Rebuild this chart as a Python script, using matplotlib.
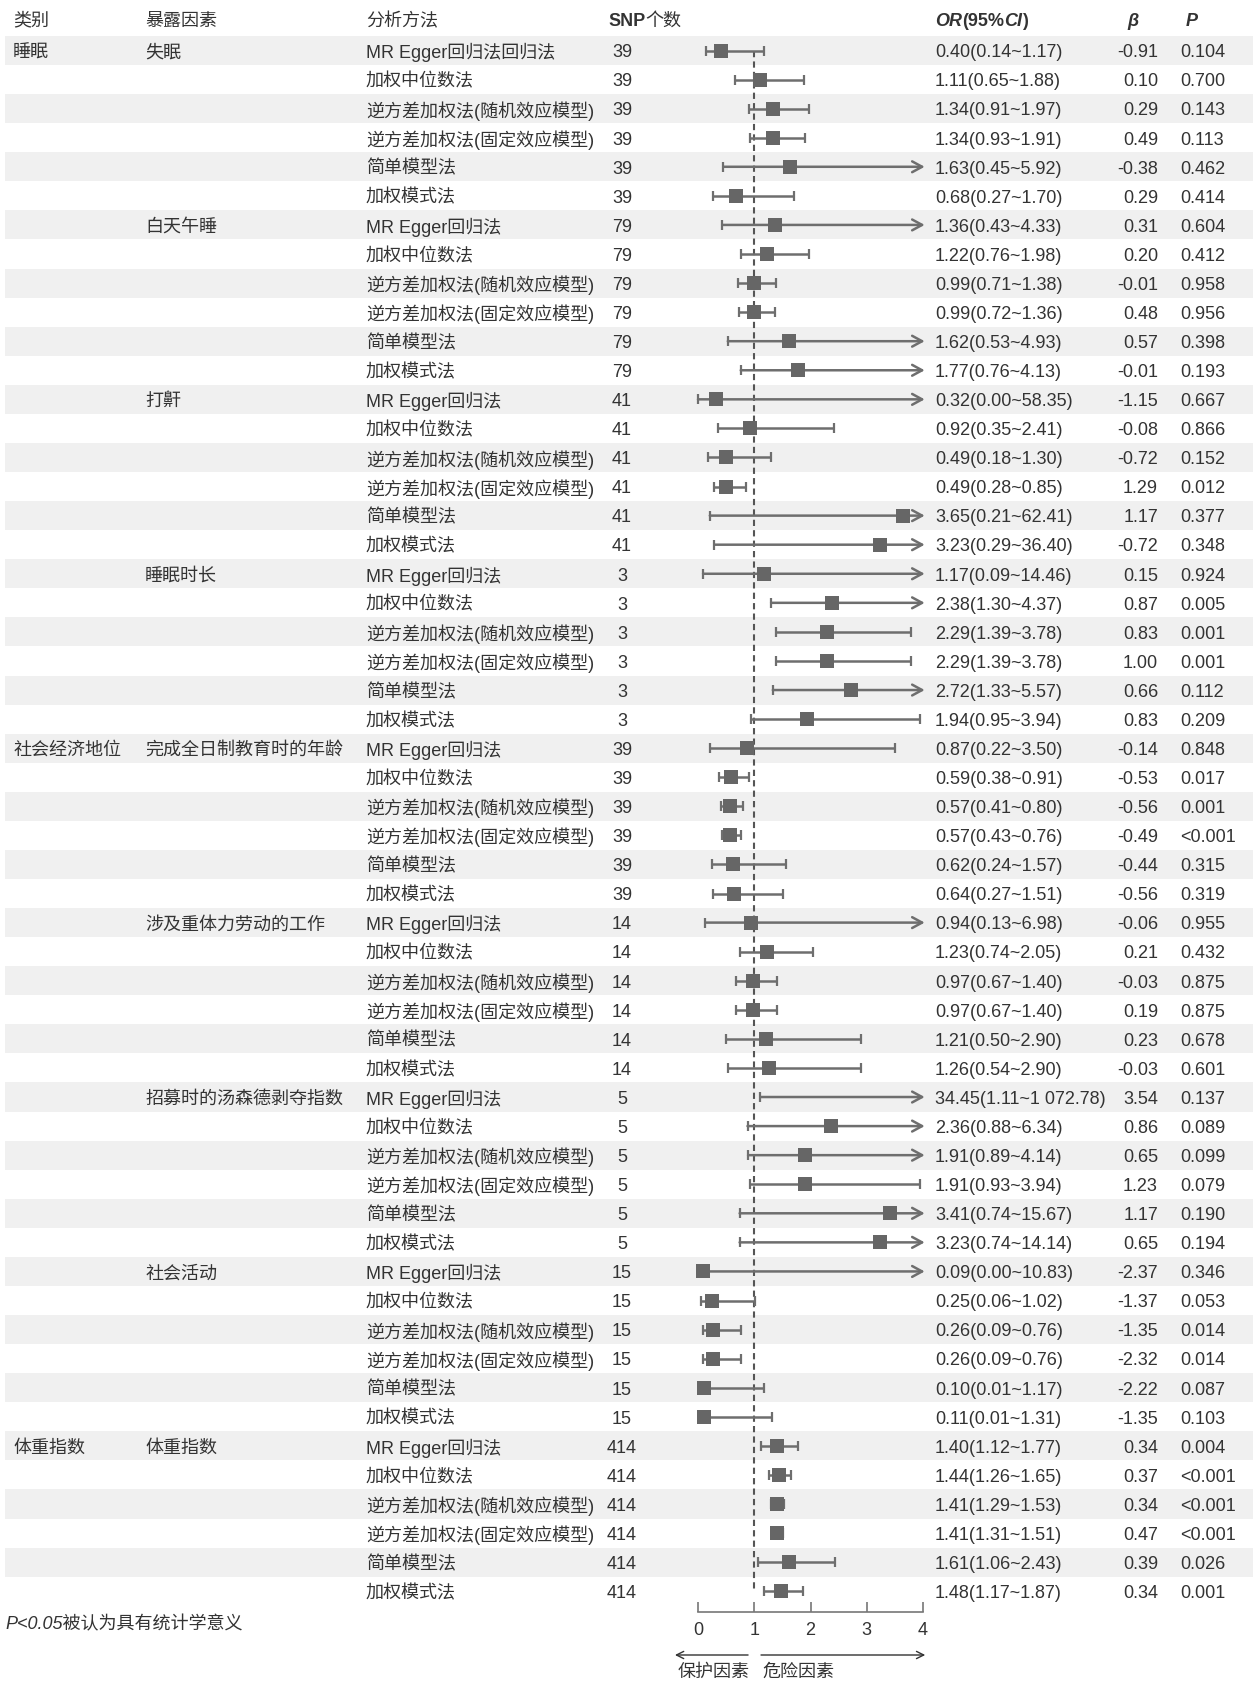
import matplotlib
matplotlib.use('Agg')
import matplotlib.pyplot as plt
from matplotlib.patches import Rectangle

plt.rcParams['font.family'] = ['Liberation Sans', 'Noto Sans CJK SC']
plt.rcParams['font.size'] = 13

# ---------------- data ----------------
categories = ['睡眠', '社会经济地位', '体重指数']
category_first_row = [0, 24, 48]
exposures = ['失眠', '白天午睡', '打鼾', '睡眠时长', '完成全日制教育时的年龄',
             '涉及重体力劳动的工作', '招募时的汤森德剥夺指数', '社会活动', '体重指数']
snp_counts = [39, 79, 41, 3, 39, 14, 5, 15, 414]
method_names = ['MR Egger回归法', '加权中位数法', '逆方差加权法(随机效应模型)',
                '逆方差加权法(固定效应模型)', '简单模型法', '加权模式法']
first_method_label = 'MR Egger回归法回归法'

or_vals = [0.40, 1.11, 1.34, 1.34, 1.63, 0.68,
           1.36, 1.22, 0.99, 0.99, 1.62, 1.77,
           0.32, 0.92, 0.49, 0.49, 3.65, 3.23,
           1.17, 2.38, 2.29, 2.29, 2.72, 1.94,
           0.87, 0.59, 0.57, 0.57, 0.62, 0.64,
           0.94, 1.23, 0.97, 0.97, 1.21, 1.26,
           34.45, 2.36, 1.91, 1.91, 3.41, 3.23,
           0.09, 0.25, 0.26, 0.26, 0.10, 0.11,
           1.40, 1.44, 1.41, 1.41, 1.61, 1.48]
ci_low = [0.14, 0.65, 0.91, 0.93, 0.45, 0.27,
          0.43, 0.76, 0.71, 0.72, 0.53, 0.76,
          0.00, 0.35, 0.18, 0.28, 0.21, 0.29,
          0.09, 1.30, 1.39, 1.39, 1.33, 0.95,
          0.22, 0.38, 0.41, 0.43, 0.24, 0.27,
          0.13, 0.74, 0.67, 0.67, 0.50, 0.54,
          1.11, 0.88, 0.89, 0.93, 0.74, 0.74,
          0.00, 0.06, 0.09, 0.09, 0.01, 0.01,
          1.12, 1.26, 1.29, 1.31, 1.06, 1.17]
ci_high = [1.17, 1.88, 1.97, 1.91, 5.92, 1.70,
           4.33, 1.98, 1.38, 1.36, 4.93, 4.13,
           58.35, 2.41, 1.30, 0.85, 62.41, 36.40,
           14.46, 4.37, 3.78, 3.78, 5.57, 3.94,
           3.50, 0.91, 0.80, 0.76, 1.57, 1.51,
           6.98, 2.05, 1.40, 1.40, 2.90, 2.90,
           1072.78, 6.34, 4.14, 3.94, 15.67, 14.14,
           10.83, 1.02, 0.76, 0.76, 1.17, 1.31,
           1.77, 1.65, 1.53, 1.51, 2.43, 1.87]
beta = [-0.91, 0.10, 0.29, 0.49, -0.38, 0.29,
        0.31, 0.20, -0.01, 0.48, 0.57, -0.01,
        -1.15, -0.08, -0.72, 1.29, 1.17, -0.72,
        0.15, 0.87, 0.83, 1.00, 0.66, 0.83,
        -0.14, -0.53, -0.56, -0.49, -0.44, -0.56,
        -0.06, 0.21, -0.03, 0.19, 0.23, -0.03,
        3.54, 0.86, 0.65, 1.23, 1.17, 0.65,
        -2.37, -1.37, -1.35, -2.32, -2.22, -1.35,
        0.34, 0.37, 0.34, 0.47, 0.39, 0.34]
p_text = ['0.104', '0.700', '0.143', '0.113', '0.462', '0.414',
          '0.604', '0.412', '0.958', '0.956', '0.398', '0.193',
          '0.667', '0.866', '0.152', '0.012', '0.377', '0.348',
          '0.924', '0.005', '0.001', '0.001', '0.112', '0.209',
          '0.848', '0.017', '0.001', '<0.001', '0.315', '0.319',
          '0.955', '0.432', '0.875', '0.875', '0.678', '0.601',
          '0.137', '0.089', '0.099', '0.079', '0.190', '0.194',
          '0.346', '0.053', '0.014', '0.014', '0.087', '0.103',
          '0.004', '<0.001', '<0.001', '<0.001', '0.026', '0.001']
axis_ticks = [0, 1, 2, 3, 4]
axis_min, axis_max = 0, 4

# ---------------- layout ----------------
W, H = 1255, 1682
n_rows = len(or_vals)
y0, dy = 50.5, 29.07
tdy = 2.3          # text vertical nudge (pixels)
header_y = 19 + tdy
x_cat, x_exp, x_met, x_snp, x_or, x_beta, x_p = 13, 145, 366, 622, 935, 1158, 1180
txt = '#333333'
band = '#f0f0f0'
line_c = '#6e6e6e'
box_c = '#666666'


def row_y(i):
    return y0 + i * dy


def fmt_num(v):
    s = f'{v:.2f}'
    ip, dp = s.split('.')
    if len(ip) > 3:
        ip = ip[:-3] + ' ' + ip[-3:]
    return ip + '.' + dp


fig = plt.figure(figsize=(W / 100, H / 100), dpi=100)
ax = fig.add_axes([0, 0, 1, 1])
ax.set_xlim(0, W)
ax.set_ylim(H, 0)
ax.axis('off')

# stripes
for i in range(0, n_rows, 2):
    ax.add_patch(Rectangle((5, row_y(i) - dy / 2), W - 7, dy, color=band, lw=0, zorder=0))

# headers
ax.text(x_cat, header_y, '类别', va='center', color=txt)
ax.text(x_exp, header_y, '暴露因素', va='center', color=txt)
ax.text(x_met, header_y, '分析方法', va='center', color=txt)
t = ax.text(608, header_y, 'SNP', va='center', color=txt, fontweight='bold')
ax.annotate('个数', xy=(1, 0), xycoords=t, va='bottom', ha='left', color=txt)
t1 = ax.text(x_or, header_y, 'OR', va='center', color=txt, fontweight='bold', style='italic')
t2 = ax.annotate('(95%', xy=(1, 0), xycoords=t1, va='bottom', ha='left', color=txt, fontweight='bold')
t3 = ax.annotate('CI', xy=(1, 0), xycoords=t2, va='bottom', ha='left', color=txt, fontweight='bold', style='italic')
ax.annotate(')', xy=(1, 0), xycoords=t3, va='bottom', ha='left', color=txt, fontweight='bold')
ax.text(1133, header_y, 'β', va='center', ha='center', color=txt, fontweight='bold', style='italic')
ax.text(1186, header_y, 'P', va='center', ha='left', color=txt, fontweight='bold', style='italic')

# table text
for c, r in zip(categories, category_first_row):
    ax.text(x_cat, row_y(r) + tdy, c, va='center', color=txt)
for i in range(n_rows):
    y = row_y(i) + tdy
    e = i // len(method_names)
    m = i % len(method_names)
    if m == 0:
        ax.text(x_exp, y, exposures[e], va='center', color=txt)
    label = first_method_label if i == 0 else method_names[m]
    ax.text(x_met, y, label, va='center', color=txt)
    ax.text(x_snp, y, str(snp_counts[e]), va='center', ha='center', color=txt)
    ax.text(x_or, y, f'{fmt_num(or_vals[i])}({fmt_num(ci_low[i])}~{fmt_num(ci_high[i])})',
            va='center', color=txt)
    ax.text(x_beta, y, f'{beta[i]:.2f}', va='center', ha='right', color=txt)
    ax.text(x_p, y, p_text[i], va='center', ha='left', color=txt)

ax.text(5, 1625, 'P<0.05被认为具有统计学意义', va='center', color=txt, style='italic')

# forest axes
px0, px1 = 698, 923
top_px = row_y(0) - dy / 2
bot_px = row_y(n_rows - 1) + dy / 2
fax = fig.add_axes([px0 / W, 1 - bot_px / H, (px1 - px0) / W, (bot_px - top_px) / H])
fax.set_xlim(axis_min, axis_max)
fax.set_ylim(n_rows - 0.5, -0.5)
fax.patch.set_visible(False)
for s in ['left', 'right', 'top']:
    fax.spines[s].set_visible(False)
fax.spines['bottom'].set_position(('outward', 4.5))
fax.spines['bottom'].set_color('#777777')
fax.spines['bottom'].set_linewidth(1.2)
fax.set_yticks([])
fax.set_xticks(axis_ticks)
fax.set_xticklabels([str(v) for v in axis_ticks])
fax.tick_params(axis='x', direction='in', length=7, width=1.2, color='#777777',
                labelcolor=txt, labelsize=13, pad=7.5)

fax.vlines(1, 0, n_rows - 1, colors='#555555', linestyles=(0, (3, 2)), lw=1.5, zorder=2, clip_on=False)

for i in range(n_rows):
    lo, hi, o = ci_low[i], ci_high[i], or_vals[i]
    x0 = max(lo, axis_min)
    if hi > axis_max:
        fax.annotate('', xy=(axis_max + 0.03, i), xytext=(x0, i), xycoords='data',
                     arrowprops=dict(arrowstyle='->,head_length=0.55,head_width=0.3',
                                     color=line_c, lw=1.8, shrinkA=0, shrinkB=0),
                     zorder=3, annotation_clip=False)
    else:
        fax.hlines(i, x0, hi, colors=line_c, lw=1.8, zorder=3, clip_on=False)
        fax.plot([hi], [i], marker='|', ms=6.5, mew=1.6, color=line_c, zorder=3, clip_on=False)
    if lo >= axis_min:
        fax.plot([lo], [i], marker='|', ms=6.5, mew=1.6, color=line_c, zorder=3, clip_on=False)
    if o <= axis_max:
        fax.plot([o], [i], marker='s', ms=9.4, color=box_c, mew=0, zorder=4, clip_on=False)

# direction arrows
yc = (fax.transData, ax.transData)
fax.annotate('', xy=(-0.41, 1655), xytext=(0.89, 1655), xycoords=yc, textcoords=yc,
             arrowprops=dict(arrowstyle='->', color=txt, lw=1.0, shrinkA=0, shrinkB=0),
             annotation_clip=False)
fax.annotate('', xy=(4.04, 1655), xytext=(1.12, 1655), xycoords=yc, textcoords=yc,
             arrowprops=dict(arrowstyle='->', color=txt, lw=1.0, shrinkA=0, shrinkB=0),
             annotation_clip=False)
fax.annotate('保护因素', xy=(-0.37, 1672), xycoords=yc, va='center', ha='left', color=txt,
             annotation_clip=False)
fax.annotate('危险因素', xy=(1.14, 1672), xycoords=yc, va='center', ha='left', color=txt,
             annotation_clip=False)

fig.savefig('out.png', dpi=100)
